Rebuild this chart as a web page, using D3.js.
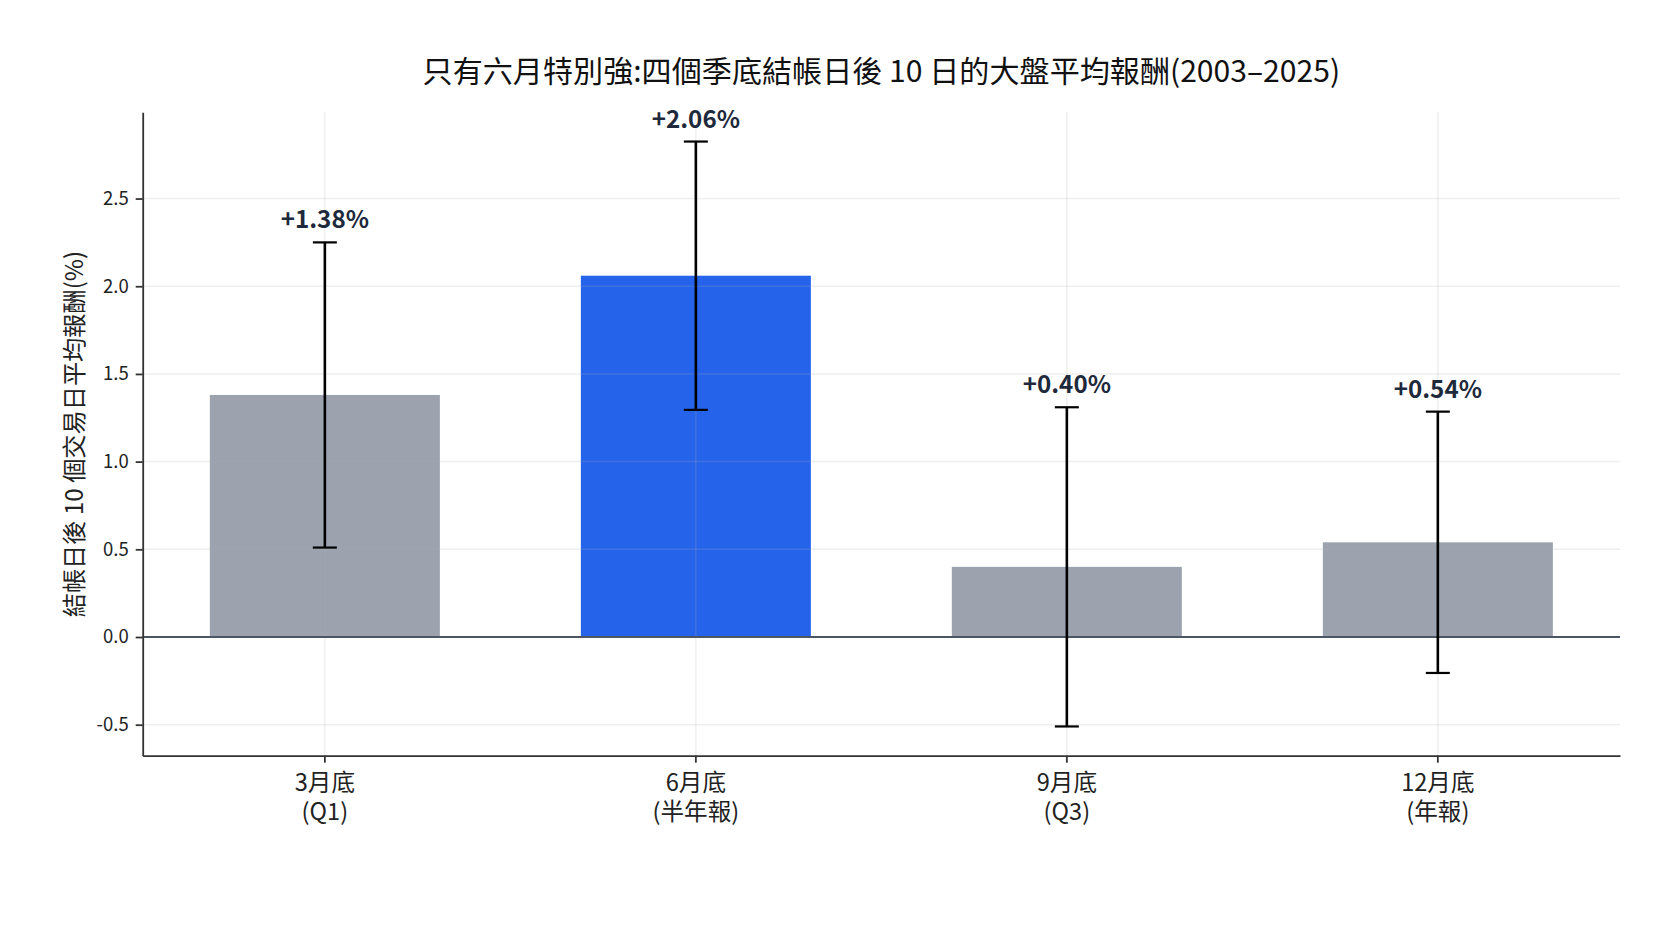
<!DOCTYPE html>
<html>
<head>
<meta charset="utf-8">
<script src="https://cdn.jsdelivr.net/npm/d3@7"></script>
<style>
  html, body { margin: 0; padding: 0; background: #fff; }
  svg text { font-family: "Noto Sans CJK TC", "Noto Sans CJK SC", "Noto Sans", sans-serif; }
</style>
</head>
<body>
<svg id="canvas"></svg>
<script>
const monthLabels = ['3月底', '6月底', '9月底', '12月底']
const periodLabels = ['(Q1)', '(半年報)', '(Q3)', '(年報)']
const meanReturns = [1.38, 2.06, 0.40, 0.54]
const errorSizes = [0.87, 0.765, 0.91, 0.745]
const yTicks = [-0.5, 0, 0.5, 1.0, 1.5, 2.0, 2.5]

const titleText = '只有六月特別強:四個季底結帳日後 10 日的大盤平均報酬(2003–2025)'
const yLabelText = '結帳日後 10 個交易日平均報酬(%)'

const w = 1680
const h = 945
const plot = { left: 142.7, right: 1620, top: 112.3, bottom: 755.7 }
const canvas = d3.select('#canvas').attr('width', w).attr('height', h)

const grey = '#9ca3af'
const blue = '#2563eb'

// x: bars 0.62 wide with a 5% margin, as matplotlib would autoscale
const xScale = d3.scaleBand()
                 .domain(monthLabels)
                 .range([plot.left, plot.right])
                 .paddingInner(0.38)
                 .paddingOuter(0.181)

// y: extent of the error bars, padded 5% each side
const lows = meanReturns.map((m, i) => m - errorSizes[i])
const highs = meanReturns.map((m, i) => m + errorSizes[i])
const yMin = d3.min(lows)
const yMax = d3.max(highs)
const yPad = (yMax - yMin) * 0.05
const yScale = d3.scaleLinear()
                 .domain([yMin - yPad, yMax + yPad])
                 .range([plot.bottom, plot.top])

const center = i => xScale(monthLabels[i]) + xScale.bandwidth() / 2
const best = d3.maxIndex(meanReturns)

// bars
canvas.append('g')
      .selectAll('rect')
      .data(meanReturns)
      .enter()
      .append('rect')
      .attr('x', (_, i) => xScale(monthLabels[i]))
      .attr('width', xScale.bandwidth())
      .attr('y', d => yScale(Math.max(0, d)))
      .attr('height', d => Math.abs(yScale(d) - yScale(0)))
      .attr('fill', (_, i) => i === best ? blue : grey)

// grid sits above the bars, faint
const grid = canvas.append('g')
                   .attr('stroke', '#b0b0b0')
                   .attr('stroke-opacity', 0.2)
                   .attr('stroke-width', 1.5)
grid.selectAll('line.h')
    .data(yTicks)
    .enter()
    .append('line')
    .attr('class', 'h')
    .attr('x1', plot.left)
    .attr('x2', plot.right)
    .attr('y1', d => yScale(d))
    .attr('y2', d => yScale(d))
grid.selectAll('line.v')
    .data(monthLabels)
    .enter()
    .append('line')
    .attr('class', 'v')
    .attr('x1', (_, i) => center(i))
    .attr('x2', (_, i) => center(i))
    .attr('y1', plot.top)
    .attr('y2', plot.bottom)

// zero line
canvas.append('line')
      .attr('x1', plot.left)
      .attr('x2', plot.right)
      .attr('y1', yScale(0))
      .attr('y2', yScale(0))
      .attr('stroke', '#4b5563')
      .attr('stroke-width', 1.8)

// error bars
const errs = canvas.append('g')
                   .attr('stroke', '#000')
                   .selectAll('g')
                   .data(meanReturns)
                   .enter()
                   .append('g')
errs.append('line')
    .attr('x1', (_, i) => center(i))
    .attr('x2', (_, i) => center(i))
    .attr('y1', (_, i) => yScale(highs[i]))
    .attr('y2', (_, i) => yScale(lows[i]))
    .attr('stroke-width', 2.6)
errs.selectAll('line.cap')
    .data((_, i) => [highs[i], lows[i]].map(v => ({ v, i })))
    .enter()
    .append('line')
    .attr('class', 'cap')
    .attr('x1', d => center(d.i) - 12)
    .attr('x2', d => center(d.i) + 12)
    .attr('y1', d => yScale(d.v))
    .attr('y2', d => yScale(d.v))
    .attr('stroke-width', 2.2)

// value labels above the error bars
canvas.append('g')
      .selectAll('text')
      .data(meanReturns)
      .enter()
      .append('text')
      .attr('x', (_, i) => center(i))
      .attr('y', (_, i) => yScale(highs[i]) - 14)
      .attr('text-anchor', 'middle')
      .attr('font-size', 24.2)
      .attr('font-weight', 'bold')
      .attr('fill', '#1e293b')
      .text(d => (d >= 0 ? '+' : '') + d.toFixed(2) + '%')

// axes
const yAxis = d3.axisLeft(yScale)
                .tickValues(yTicks)
                .tickFormat(d => d3.format('.1f')(d).replace('−', '-'))
                .tickSize(7)
                .tickSizeOuter(0)
                .tickPadding(7)
canvas.append('g')
      .attr('transform', `translate(${plot.left},0)`)
      .call(yAxis)
      .call(g => g.selectAll('path, line').attr('stroke', '#333').attr('stroke-width', 1.8))
      .call(g => g.selectAll('text').attr('font-size', 18.5).attr('fill', '#222').attr('font-family', null))

const xAxis = d3.axisBottom(xScale)
                .tickSize(7)
                .tickSizeOuter(0)
                .tickFormat('')
canvas.append('g')
      .attr('transform', `translate(0,${plot.bottom})`)
      .call(xAxis)
      .call(g => g.selectAll('path, line').attr('stroke', '#333').attr('stroke-width', 1.8))
      .call(g => g.selectAll('.tick text').remove())

// two-line category labels
const xLabels = canvas.append('g')
                      .attr('font-size', 23.6)
                      .attr('fill', '#222')
                      .attr('text-anchor', 'middle')
xLabels.selectAll('text.month')
       .data(monthLabels)
       .enter()
       .append('text')
       .attr('class', 'month')
       .attr('x', (_, i) => center(i))
       .attr('y', plot.bottom + 35)
       .text(d => d)
xLabels.selectAll('text.period')
       .data(periodLabels)
       .enter()
       .append('text')
       .attr('class', 'period')
       .attr('x', (_, i) => center(i))
       .attr('y', plot.bottom + 64)
       .text(d => d)

// title
canvas.append('text')
      .attr('x', (plot.left + plot.right) / 2)
      .attr('y', 82)
      .attr('text-anchor', 'middle')
      .attr('font-size', 30.1)
      .attr('fill', '#111')
      .text(titleText)

// y axis label
canvas.append('text')
      .attr('transform', `translate(83,${(plot.top + plot.bottom) / 2}) rotate(-90)`)
      .attr('text-anchor', 'middle')
      .attr('font-size', 24.2)
      .attr('fill', '#222')
      .text(yLabelText)
</script>
</body>
</html>
